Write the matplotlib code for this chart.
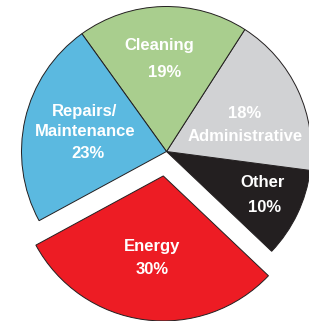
import matplotlib.pyplot as plt

# shares of the budget, in percent (counter-clockwise from the lower right)
categories = ["Other", "Administrative", "Cleaning", "Repairs/\nMaintenance", "Energy"]
shares = [10, 18, 19, 23, 30]
colors = ["#231f20", "#d1d2d4", "#a9ce8e", "#5bb9e0", "#ed1c24"]
explode = [0, 0, 0, 0, 0.17]

# label positions in pixels (x, y from top-left) for the two text lines
label_px = {
    "Other": [(263, 183), (265, 208)],
    "Administrative": [(245, 137), (245, 114)],
    "Cleaning": [(159, 46), (165, 73)],
    "Repairs/\nMaintenance": [(85, 121.5), (88, 154)],
    "Energy": [(152, 246), (152, 270)],
}

W, H = 309, 321
cx, cy, R = 166.5, 151.5, 145

fig = plt.figure(figsize=(W / 100, H / 100), dpi=100)
ax = fig.add_axes([0, 0, 1, 1])

ax.pie(shares, colors=colors, explode=explode, startangle=-43.5,
       counterclock=True, radius=1,
       wedgeprops=dict(edgecolor="#231f20", linewidth=0.7))

ax.set_xlim(-cx / R, (W - cx) / R)
ax.set_ylim(-(H - cy) / R, cy / R)
ax.set_aspect("auto")
ax.axis("off")


def to_data(px, py):
    return (px - cx) / R, (cy - py) / R


font = dict(color="white", fontweight="bold", fontsize=12,
            family=["Liberation Sans", "DejaVu Sans"], ha="center", va="center")

for name, share in zip(categories, shares):
    (nx, ny), (vx, vy) = label_px[name]
    ax.text(*to_data(nx, ny), name, linespacing=1.45, **font)
    ax.text(*to_data(vx, vy), f"{share}%", **font)

fig.savefig("out.png", dpi=100)
